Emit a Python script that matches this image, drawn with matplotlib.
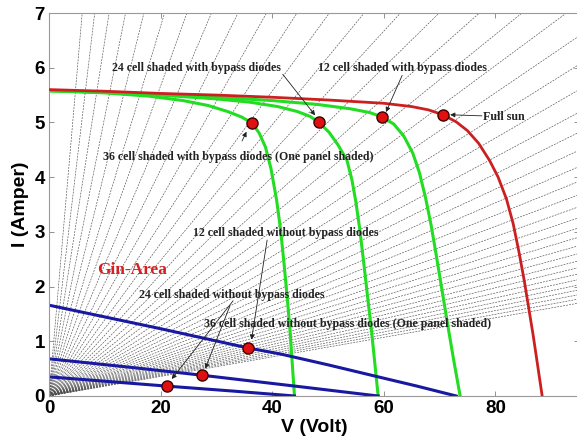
import matplotlib.pyplot as plt

# ── Data ──
# load-line resistances (ohm) of the dashed fan
load_R = [0.85, 1.17, 1.54, 1.96, 2.43, 2.96, 3.53, 4.16, 4.84, 5.57, 6.35,
          7.18, 8.07, 9.00, 9.99, 11.02, 12.11, 13.25, 14.44, 15.68, 16.97,
          18.32, 19.71, 21.16, 22.66, 24.21, 25.81, 27.46, 29.16, 30.91,
          32.72, 34.57, 36.48, 38.44, 40.45, 42.51, 44.62, 46.79, 49.00,
          51.27, 53.58, 55.95]

full_V = [0, 10, 20, 30, 40, 50, 60, 65, 68, 70.6, 73, 75, 77, 79, 80.5, 82,
          83.2, 84.3, 85.2, 86, 86.8, 87.6, 88.4]
full_I = [5.60, 5.57, 5.53, 5.50, 5.46, 5.41, 5.35, 5.29, 5.23, 5.14, 5.01,
          4.85, 4.62, 4.30, 4.00, 3.60, 3.15, 2.60, 2.10, 1.60, 1.10, 0.55, 0]

c12_V = [0, 10, 20, 30, 40, 48, 54, 57.5, 59.7, 61.8, 63.6, 65.2, 66.4, 67.5,
         68.5, 69.5, 70.5, 71.5, 72.6, 73.7]
c12_I = [5.58, 5.55, 5.51, 5.46, 5.40, 5.33, 5.25, 5.18, 5.10, 4.97, 4.75,
         4.44, 4.08, 3.62, 3.12, 2.52, 1.90, 1.28, 0.62, 0]

c24_V = [0, 10, 20, 30, 36, 41, 44.5, 46.8, 48.4, 50.2, 51.8, 53.4, 54.3,
         55.0, 55.7, 56.4, 57.1, 57.8, 58.4, 59.0]
c24_I = [5.58, 5.55, 5.50, 5.43, 5.37, 5.29, 5.20, 5.11, 5.00, 4.82, 4.59,
         4.31, 3.95, 3.55, 3.05, 2.45, 1.82, 1.20, 0.60, 0]

c36_V = [0, 10, 18, 24, 28.5, 32, 34.5, 36.4, 37.7, 38.8, 39.8, 40.8, 41.5,
         42.1, 42.7, 43.2, 43.6, 44.0]
c36_I = [5.58, 5.54, 5.48, 5.40, 5.31, 5.20, 5.10, 4.99, 4.80, 4.55, 4.15,
         3.58, 3.05, 2.45, 1.80, 1.20, 0.60, 0]

nb12_V = [0, 20, 35.6, 41.4, 50, 59, 66, 73]
nb12_I = [1.66, 1.23, 0.88, 0.77, 0.57, 0.35, 0.18, 0]
nb24_V = [0, 15, 27.4, 45, 59]
nb24_I = [0.68, 0.52, 0.38, 0.17, 0]
nb36_V = [0, 10, 21.2, 33, 44]
nb36_I = [0.35, 0.27, 0.18, 0.09, 0]

mpp_V = [70.6, 59.7, 48.4, 36.4, 35.6, 27.4, 21.2]
mpp_I = [5.14, 5.10, 5.00, 4.99, 0.88, 0.38, 0.18]

# (text, text x, text y, [arrow tips], [arrow tails])
notes = [
    ('24 cell shaded with bypass diodes', 26.5, 6.0, [(47.7, 5.13)], [(41.9, 5.88)]),
    ('12 cell shaded with bypass diodes', 63.4, 6.0, [(60.4, 5.19)], [(63.3, 5.86)]),
    ('36 cell shaded with bypass diodes (One panel shaded)', 33.9, 4.37,
     [(35.4, 4.83)], [(34.6, 4.66)]),
    ('12 cell shaded without bypass diodes', 42.4, 2.98, [(36.3, 1.03)], [(39.1, 2.85)]),
    ('24 cell shaded without bypass diodes', 32.7, 1.85,
     [(28.0, 0.50), (22.0, 0.31)], [(32.4, 1.64), (33.0, 1.74)]),
    ('36 cell shaded without bypass diodes (One panel shaded)', 53.6, 1.32, [], []),
]

V_MAX = 95
RED, GREEN, BLUE = '#cc1f1f', '#22dd22', '#1818a0'

fig = plt.figure(figsize=(5.77, 4.45), dpi=100)
ax = fig.add_axes([49 / 577, 49 / 445, 530 / 577, 383 / 445])

# ── constant-resistance load lines ──
for r in load_R:
    ax.plot([0, V_MAX], [0, V_MAX / r], color='0.3', lw=0.45,
            dashes=(3, 1.8), zorder=1)

# ── IV curves ──
ax.plot(full_V, full_I, color=RED, lw=2.0, zorder=3)
for v, i in [(c12_V, c12_I), (c24_V, c24_I), (c36_V, c36_I)]:
    ax.plot(v, i, color=GREEN, lw=2.2, zorder=2)
for v, i in [(nb12_V, nb12_I), (nb24_V, nb24_I), (nb36_V, nb36_I)]:
    ax.plot(v, i, color=BLUE, lw=2.2, zorder=2)

ax.plot(mpp_V, mpp_I, 'o', color='#e01010', mec='#400000', mew=1.0,
        ms=8, zorder=5)

# ── annotations ──
tfont = dict(family='Liberation Serif', weight='bold', size=8.6, color='#222222')
for txt, tx, ty, tips, tails in notes:
    ax.text(tx, ty, txt, ha='center', va='center', zorder=6, **tfont)
    for tip, tail in zip(tips, tails):
        ax.annotate('', xy=tip, xytext=tail, zorder=6,
                    arrowprops=dict(arrowstyle='-|>', lw=0.6, color='#222222',
                                    mutation_scale=7, shrinkA=0, shrinkB=0))

ax.text(77.8, 5.1, 'Full sun', ha='left', va='center', zorder=6, **tfont)
ax.annotate('', xy=(71.9, 5.14), xytext=(77.6, 5.12), zorder=6,
            arrowprops=dict(arrowstyle='-|>', lw=0.6, color='#222222',
                            mutation_scale=7, shrinkA=0, shrinkB=0))
ax.text(14.9, 2.30, 'Gin-Area', ha='center', va='center', color='#d42020',
        family='Liberation Serif', weight='bold', size=12.5, zorder=6)

# ── axes styling ──
ax.set_xlim(0, V_MAX)
ax.set_ylim(0, 7)
ax.set_xticks([0, 20, 40, 60, 80])
ax.set_yticks(range(8))
ax.tick_params(direction='in', length=3.5, width=0.6, color='0.5',
               top=True, right=True, pad=3)
for lab in ax.get_xticklabels() + ax.get_yticklabels():
    lab.set_family('Liberation Sans')
    lab.set_weight('bold')
    lab.set_size(13.5)
for sp in ax.spines.values():
    sp.set_color('0.6')
    sp.set_linewidth(0.8)

ax.set_xlabel('V (Volt)', family='Liberation Sans', weight='bold',
              size=14, labelpad=1)
ax.set_ylabel('I (Amper)', family='Liberation Sans', weight='bold',
              size=14, labelpad=4)

fig.savefig('out.png', dpi=100)
